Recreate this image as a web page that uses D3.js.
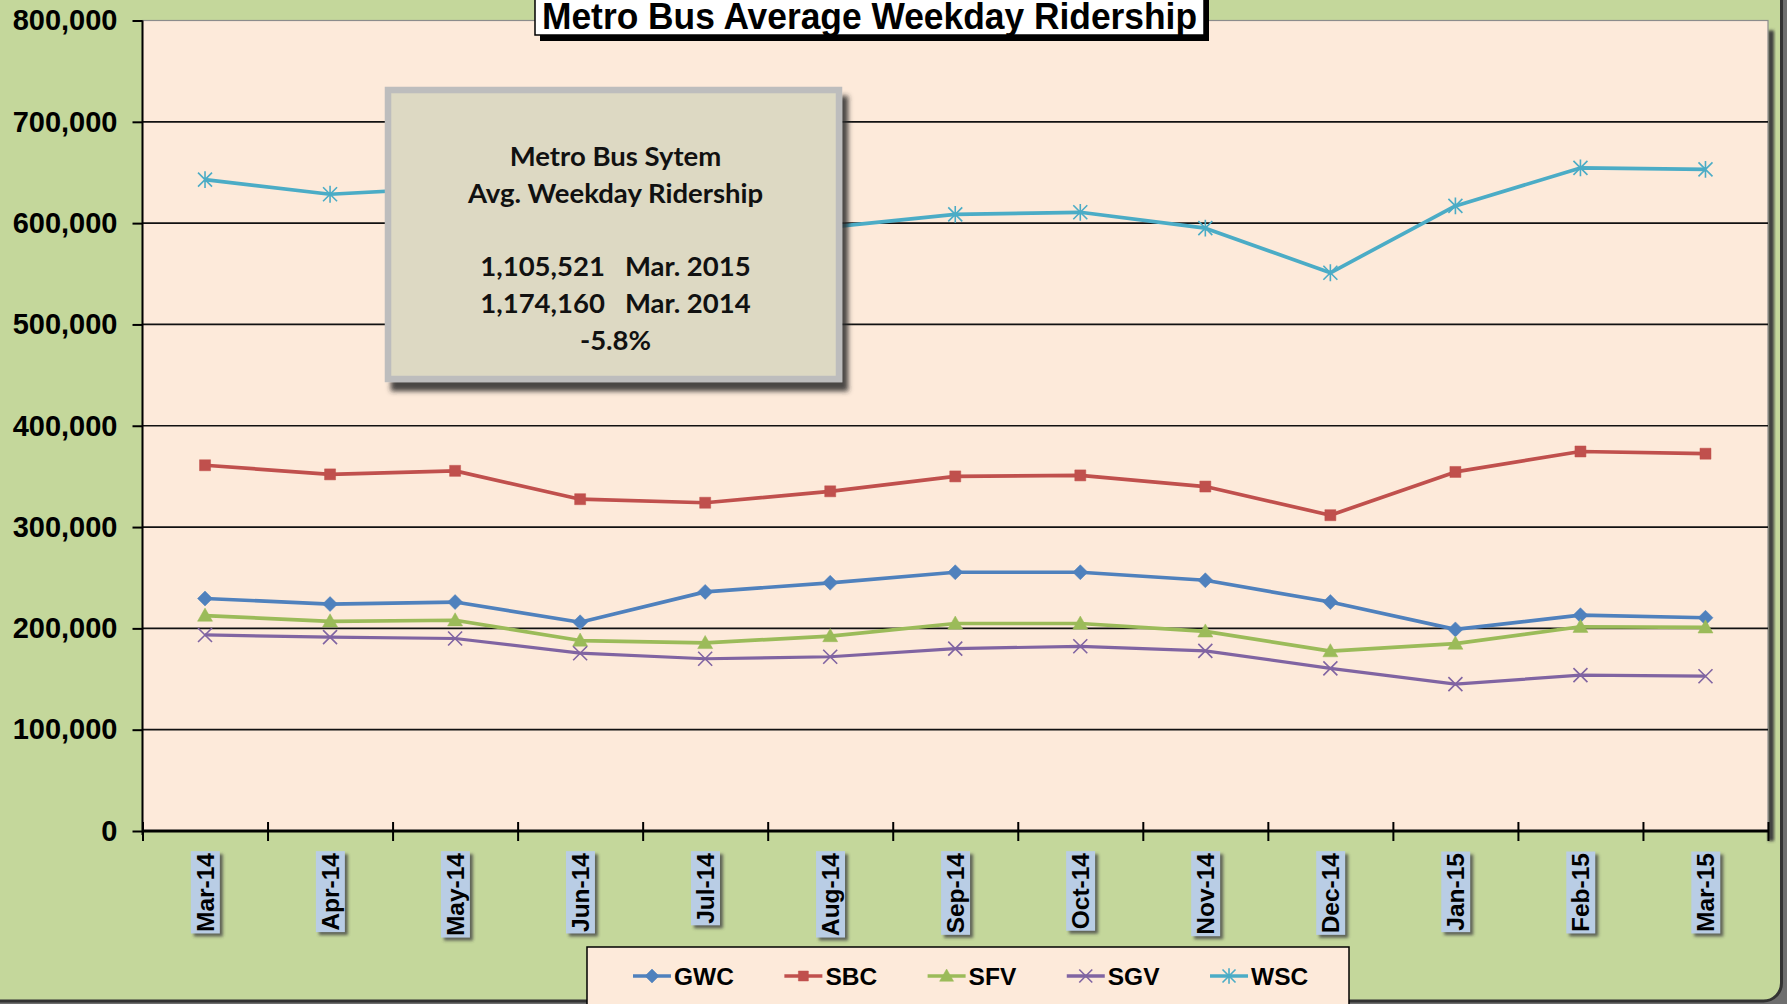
<!doctype html>
<html lang="en">
<head>
<meta charset="utf-8">
<title>Metro Bus Average Weekday Ridership</title>
<script src="https://cdn.jsdelivr.net/npm/d3@7"></script>
<style>
  html, body { margin: 0; padding: 0; background: #6e6e6e; overflow: hidden; }
  svg { display: block; }
  .ylab text { font-family: "Liberation Sans", Arial, sans-serif; font-weight: bold; font-size: 29px; fill: #000; }
  .xlab { font-family: "Liberation Sans", Arial, sans-serif; font-weight: bold; font-size: 24.5px; fill: #000; }
  .leg { font-family: "Liberation Sans", Arial, sans-serif; font-weight: bold; font-size: 24.5px; fill: #000; }
  .note { font-family: Lato, "Open Sans", sans-serif; font-weight: bold; font-size: 27.5px; fill: #111; }
</style>
</head>
<body>
<div id="chart"></div>
<script>
// months on the x axis
const months = ['Mar-14','Apr-14','May-14','Jun-14','Jul-14','Aug-14','Sep-14','Oct-14','Nov-14','Dec-14','Jan-15','Feb-15','Mar-15'];

// average weekday boardings per service sector
const gwc = [229500, 224000, 226000, 206000, 236000, 245000, 255400, 255400, 247500, 226000, 199000, 213000, 210500];
const sbc = [361000, 352000, 355500, 327500, 324000, 335300, 350000, 351000, 340000, 311700, 354400, 374600, 372400];
const sfv = [212600, 207000, 208000, 188000, 185600, 192400, 204800, 204800, 197000, 177500, 185000, 201600, 201000];
const sgv = [193500, 191300, 190000, 175500, 170000, 172000, 180000, 182300, 177800, 160500, 145000, 153800, 152800];
const wsc = [643000, 628500, 635000, 605000, 590000, 596000, 608700, 610700, 595000, 551000, 617000, 654500, 653000];

const seriesNames = ['GWC', 'SBC', 'SFV', 'SGV', 'WSC'];
const yTicks = [0, 100000, 200000, 300000, 400000, 500000, 600000, 700000, 800000];

const noteLines = ['Metro Bus Sytem', 'Avg. Weekday Ridership', '', '1,105,521   Mar. 2015', '1,174,160   Mar. 2014', '-5.8%'];
const title = 'Metro Bus Average Weekday Ridership';

const W = 1787, H = 1004;
const plot = { left: 142.5, right: 1768, top: 20.5, bottom: 831 };

const colors = ['#4F81BD', '#C0504D', '#9BBB59', '#8064A2', '#4BACC6'];
const markers = ['diamond', 'square', 'triangle', 'x', 'asterisk'];
const values = [gwc, sbc, sfv, sgv, wsc];
const series = seriesNames.map((name, i) => ({
  name: name, color: colors[i], marker: markers[i],
  points: months.map((m, j) => ({ month: m, value: values[i][j] }))
}));

function markerPath(kind, s) {
  const p = d3.path();
  if (kind === 'diamond') {
    p.moveTo(0, -s); p.lineTo(s, 0); p.lineTo(0, s); p.lineTo(-s, 0); p.closePath();
  } else if (kind === 'square') {
    p.rect(-s, -s, 2 * s, 2 * s);
  } else if (kind === 'triangle') {
    p.moveTo(0, -s); p.lineTo(s, s * 0.75); p.lineTo(-s, s * 0.75); p.closePath();
  } else {
    p.moveTo(-s, -s); p.lineTo(s, s); p.moveTo(-s, s); p.lineTo(s, -s);
    if (kind === 'asterisk') { p.moveTo(0, -s * 1.2); p.lineTo(0, s * 1.2); }
  }
  return p.toString();
}
const markerSize = { diamond: 7.5, square: 5.5, triangle: 7.5, x: 7, asterisk: 7 };
const stroked = k => k === 'x' || k === 'asterisk';

const svg = d3.select('#chart').append('svg').attr('width', W).attr('height', H);
const defs = svg.append('defs');
defs.append('filter').attr('id', 'soft').attr('x', '-20%').attr('y', '-20%').attr('width', '140%').attr('height', '140%')
  .append('feGaussianBlur').attr('stdDeviation', 1.5);
defs.append('filter').attr('id', 'boxshadow').attr('x', '-10%').attr('y', '-10%').attr('width', '130%').attr('height', '130%')
  .append('feDropShadow').attr('dx', 6).attr('dy', 9).attr('stdDeviation', 2.5)
  .attr('flood-color', '#2a2a2a').attr('flood-opacity', 0.85);

// chart background with rounded frame
svg.append('rect').attr('x', -30).attr('y', -30).attr('width', 1811.5).attr('height', 1031)
  .attr('rx', 18).attr('fill', '#C4D79B').attr('stroke', '#333').attr('stroke-width', 3);

const x = d3.scaleBand().domain(months).range([plot.left, plot.right]);
const xEdge = d3.scaleLinear().domain([0, months.length]).range([plot.left, plot.right]);
const y = d3.scaleLinear().domain([0, 800000]).range([plot.bottom, plot.top]);
const cx = m => x(m) + x.bandwidth() / 2;

// plot area shadow + fill
svg.append('rect').attr('x', plot.right).attr('y', plot.top + 10).attr('width', 6).attr('height', plot.bottom - plot.top)
  .attr('fill', '#3d3d3d').attr('filter', 'url(#soft)');
svg.append('rect').attr('x', plot.left).attr('y', plot.top)
  .attr('width', plot.right - plot.left).attr('height', plot.bottom - plot.top)
  .attr('fill', '#FDEADA').attr('stroke', '#8c8c8c').attr('stroke-width', 1.2);

// gridlines
svg.append('g').selectAll('line').data(yTicks.filter(t => t > 0 && t < 800000)).join('line')
  .attr('x1', plot.left).attr('x2', plot.right)
  .attr('y1', d => y(d)).attr('y2', d => y(d))
  .attr('stroke', '#111').attr('stroke-width', 1.7);

// y axis
const yAxis = svg.append('g').attr('class', 'ylab')
  .attr('transform', `translate(${plot.left},0)`)
  .call(d3.axisLeft(y).tickValues(yTicks).tickSize(10).tickPadding(15).tickFormat(d3.format(',')));
yAxis.select('.domain').attr('stroke', '#000').attr('stroke-width', 2).attr('d', `M0,${plot.top}V${plot.bottom + 4}`);
yAxis.selectAll('.tick line').attr('stroke', '#000').attr('stroke-width', 2);

// x axis: shadow, line and boundary ticks
svg.append('line').attr('x1', plot.left + 4).attr('x2', plot.right + 2)
  .attr('y1', plot.bottom + 4).attr('y2', plot.bottom + 4)
  .attr('stroke', '#333').attr('stroke-width', 4).attr('filter', 'url(#soft)');
const xAxis = svg.append('g').attr('transform', `translate(0,${plot.bottom})`)
  .call(d3.axisBottom(xEdge).tickValues(d3.range(0, months.length + 1)).tickSize(10).tickFormat(''));
xAxis.select('.domain').attr('stroke', '#000').attr('stroke-width', 3).attr('d', `M${plot.left},0H${plot.right}`);
xAxis.selectAll('.tick line').attr('stroke', '#000').attr('stroke-width', 2).attr('y1', -9);

// rotated month labels with blue highlight
const lab = svg.append('g').selectAll('g').data(months).join('g')
  .attr('transform', d => `translate(${cx(d)},851) rotate(-90)`);
lab.append('text').attr('class', 'xlab').attr('text-anchor', 'end').attr('x', -2).attr('dy', '0.36em').text(d => d);
lab.each(function() {
  const g = d3.select(this);
  const b = g.select('text').node().getBBox();
  g.insert('rect', 'text').attr('x', b.x - 1.5 - 3).attr('y', b.y - 1 + 3)
    .attr('width', b.width + 3).attr('height', b.height + 2)
    .attr('fill', '#444').attr('opacity', 0.8).attr('filter', 'url(#soft)');
  g.insert('rect', 'text').attr('x', b.x - 1.5).attr('y', b.y - 1)
    .attr('width', b.width + 3).attr('height', b.height + 2).attr('fill', '#B9CDE5');
});

// series lines and markers
const line = d3.line().x(d => cx(d.month)).y(d => y(d.value));
const sg = svg.append('g').selectAll('g').data(series).join('g');
sg.append('path').attr('d', d => line(d.points)).attr('fill', 'none')
  .attr('stroke', d => d.color).attr('stroke-width', d => d.name === 'SGV' ? 3.2 : 3.7)
  .attr('stroke-linejoin', 'round');
sg.each(function(s) {
  d3.select(this).selectAll('path.mk').data(s.points).join('path').attr('class', 'mk')
    .attr('transform', d => `translate(${cx(d.month)},${y(d.value)})`)
    .attr('d', markerPath(s.marker, markerSize[s.marker]))
    .attr('fill', stroked(s.marker) ? 'none' : s.color)
    .attr('stroke', s.color).attr('stroke-width', stroked(s.marker) ? 1.6 : 0.5);
});

// annotation box
const note = { x: 388, y: 90, w: 451, h: 289 };
svg.append('rect').attr('x', note.x).attr('y', note.y).attr('width', note.w).attr('height', note.h)
  .attr('fill', '#DDD9C3').attr('stroke', '#BDBDBD').attr('stroke-width', 6.5)
  .attr('filter', 'url(#boxshadow)');
svg.append('g').selectAll('text').data(noteLines).join('text').attr('class', 'note')
  .attr('text-anchor', 'middle').attr('xml:space', 'preserve').style('white-space', 'pre')
  .attr('x', note.x + note.w / 2 + 2).attr('y', (d, i) => 166 + i * 36.7).text(d => d);

// title
const tb = { x: 535, y: -6, w: 669, h: 41 };
svg.append('rect').attr('x', tb.x + 5).attr('y', tb.y + 6).attr('width', tb.w).attr('height', tb.h).attr('fill', '#000');
svg.append('rect').attr('x', tb.x).attr('y', tb.y).attr('width', tb.w).attr('height', tb.h)
  .attr('fill', '#fff').attr('stroke', '#000').attr('stroke-width', 1.5);
svg.append('text').attr('x', tb.x + tb.w / 2).attr('y', 28.5).attr('text-anchor', 'middle')
  .attr('textLength', 655).attr('lengthAdjust', 'spacingAndGlyphs')
  .style('font-family', '"Liberation Sans", Arial, sans-serif').style('font-weight', 'bold').style('font-size', '36px')
  .text(title);

// legend
const lg = { x: 587, y: 947, w: 762, h: 70 };
svg.append('rect').attr('x', lg.x).attr('y', lg.y).attr('width', lg.w).attr('height', lg.h)
  .attr('fill', '#FDEADA').attr('stroke', '#000').attr('stroke-width', 1.5);
let lx = lg.x + 46;
series.forEach(s => {
  const g = svg.append('g').attr('transform', `translate(${lx},976)`);
  g.append('line').attr('x1', 0).attr('x2', 38).attr('stroke', s.color).attr('stroke-width', 3.5);
  g.append('path').attr('transform', 'translate(19,0)').attr('d', markerPath(s.marker, markerSize[s.marker] - 0.5))
    .attr('fill', stroked(s.marker) ? 'none' : s.color)
    .attr('stroke', s.color).attr('stroke-width', stroked(s.marker) ? 1.6 : 0.5);
  const t = g.append('text').attr('class', 'leg').attr('x', 41).attr('dy', '0.36em').text(s.name);
  lx += 41 + t.node().getComputedTextLength() + 50.5;
});
</script>
</body>
</html>
